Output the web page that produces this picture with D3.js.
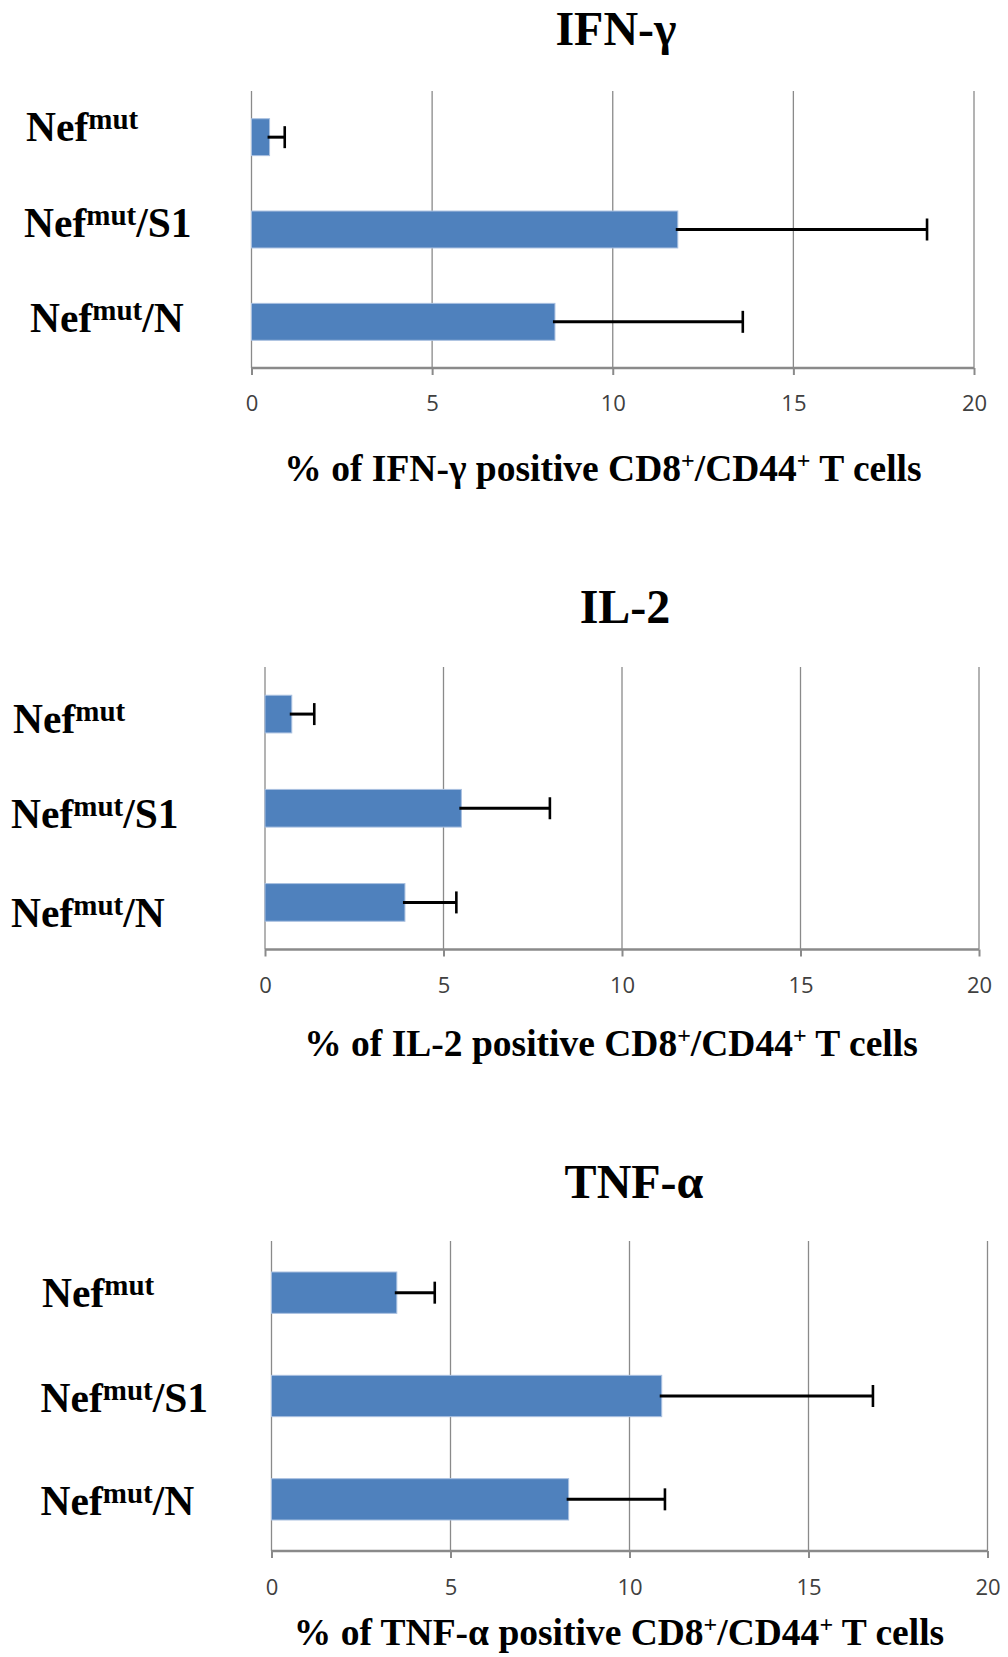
<!DOCTYPE html>
<html>
<head>
<meta charset="utf-8" />
<title>Cytokine positive CD8+/CD44+ T cells</title>
<script src="https://d3js.org/d3.v7.min.js"></script>
<style>
body { margin: 0; background: #fff; }
svg { display: block; }
.grid line { stroke: #8a8a8a; stroke-width: 1.3px; }
.axis path { display: none; }
.axis line { stroke: #8a8a8a; stroke-width: 2px; }
.axis text { font-family: 'Open Sans', sans-serif; font-size: 22px; fill: #404040; }
.bar { fill: #4f81bd; stroke: #a9c0e0; stroke-width: 1px; }
.err { stroke: #000; }
.serif { font-family: 'Liberation Serif', 'Times New Roman', serif; font-weight: bold; fill: #000; }
</style>
</head>
<body>
<div id="chart"></div>
<script>
// data
var suffixes = ["", "/S1", "/N"];          // Nef^mut, Nef^mut/S1, Nef^mut/N
var ticks = [0, 5, 10, 15, 20];

var ifnValues = [0.5, 11.8, 8.4];
var ifnErrors = [0.42, 6.9, 5.2];

var il2Values = [0.75, 5.5, 3.92];
var il2Errors = [0.63, 2.48, 1.44];

var tnfValues = [3.5, 10.9, 8.3];
var tnfErrors = [1.06, 5.9, 2.69];

var width = 1008, height = 1657;

var svg = d3.select("#chart").append("svg")
    .attr("width", width)
    .attr("height", height);

// layout of each panel
var panels = [
    { title: "IFN-\u03b3", values: ifnValues, errors: ifnErrors,
      x0: 251.5, x1: 974, top: 91, bottom: 368,
      titleX: 616, titleY: 45, axisX: 603, axisY: 481, tickY: 403,
      labelX: [26, 24, 30], labelY: [140.7, 236.7, 331.7] },
    { title: "IL-2", values: il2Values, errors: il2Errors,
      x0: 265, x1: 979, top: 667, bottom: 949.5,
      titleX: 625, titleY: 623, axisX: 611, axisY: 1056, tickY: 985,
      labelX: [13, 11, 11], labelY: [733, 828, 926.7] },
    { title: "TNF-\u03b1", values: tnfValues, errors: tnfErrors,
      x0: 271.5, x1: 987.5, top: 1241, bottom: 1551,
      titleX: 634, titleY: 1198, axisX: 619, axisY: 1645, tickY: 1587,
      labelX: [42, 40.5, 40.5], labelY: [1306.7, 1411.7, 1515] }
];

panels.forEach(function(p) {
    var g = svg.append("g");

    var x = d3.scaleLinear().domain([0, 20]).range([p.x0, p.x1]);
    var y = d3.scaleBand().domain(d3.range(suffixes.length))
        .range([p.top, p.bottom]).paddingInner(0.6).paddingOuter(0.3);

    // vertical gridlines
    g.append("g").attr("class", "grid")
        .selectAll("line")
        .data(ticks)
        .enter().append("line")
            .attr("x1", function(d) { return x(d); })
            .attr("x2", function(d) { return x(d); })
            .attr("y1", p.top)
            .attr("y2", p.bottom);

    // bottom axis
    var axis = g.append("g").attr("class", "axis")
        .attr("transform", "translate(0," + p.bottom + ")")
        .call(d3.axisBottom(x).tickValues(ticks).tickSize(7).tickSizeOuter(0));
    axis.selectAll("text").attr("y", p.tickY - p.bottom).attr("dy", "0.36em");
    axis.append("line")
        .attr("x1", p.x0).attr("x2", p.x1)
        .attr("y1", 0).attr("y2", 0)
        .style("stroke-width", "2.3px");

    // bars
    g.selectAll("rect.bar")
        .data(p.values)
        .enter().append("rect")
            .attr("class", "bar")
            .attr("x", x(0))
            .attr("y", function(d, i) { return y(i); })
            .attr("width", function(d) { return x(d) - x(0); })
            .attr("height", y.bandwidth());

    // error bars
    var eb = g.selectAll("g.eb")
        .data(p.values)
        .enter().append("g").attr("class", "eb");
    eb.append("line").attr("class", "err")
        .attr("x1", function(d) { return x(d) - 2; })
        .attr("x2", function(d, i) { return x(d + p.errors[i]); })
        .attr("y1", function(d, i) { return y(i) + y.bandwidth() / 2; })
        .attr("y2", function(d, i) { return y(i) + y.bandwidth() / 2; })
        .style("stroke-width", 3);
    eb.append("line").attr("class", "err")
        .attr("x1", function(d, i) { return x(d + p.errors[i]); })
        .attr("x2", function(d, i) { return x(d + p.errors[i]); })
        .attr("y1", function(d, i) { return y(i) + y.bandwidth() / 2 - 11; })
        .attr("y2", function(d, i) { return y(i) + y.bandwidth() / 2 + 11; })
        .style("stroke-width", 2.6);

    // category labels: Nef^mut + suffix
    var lab = g.selectAll("text.cat")
        .data(suffixes)
        .enter().append("text")
            .attr("class", "serif cat")
            .attr("x", function(d, i) { return p.labelX[i]; })
            .attr("y", function(d, i) { return p.labelY[i]; })
            .style("font-size", "41.5px");
    lab.append("tspan").text("Nef");
    lab.append("tspan").text("mut").attr("dy", -12).style("font-size", "29px");
    lab.append("tspan").text(function(d) { return d; }).attr("dy", 12);

    // panel title
    g.append("text")
        .attr("class", "serif")
        .attr("x", p.titleX).attr("y", p.titleY)
        .attr("text-anchor", "middle")
        .style("font-size", "48px")
        .text(p.title);

    // axis title
    var at = g.append("text")
        .attr("class", "serif")
        .attr("x", p.axisX).attr("y", p.axisY)
        .attr("text-anchor", "middle")
        .style("font-size", "37.5px");
    at.append("tspan").text("% of " + p.title + " positive CD8");
    at.append("tspan").text("+").attr("dy", -13).style("font-size", "24px");
    at.append("tspan").text("/CD44").attr("dy", 13);
    at.append("tspan").text("+").attr("dy", -13).style("font-size", "24px");
    at.append("tspan").text(" T cells").attr("dy", 13);
});
</script>
</body>
</html>
